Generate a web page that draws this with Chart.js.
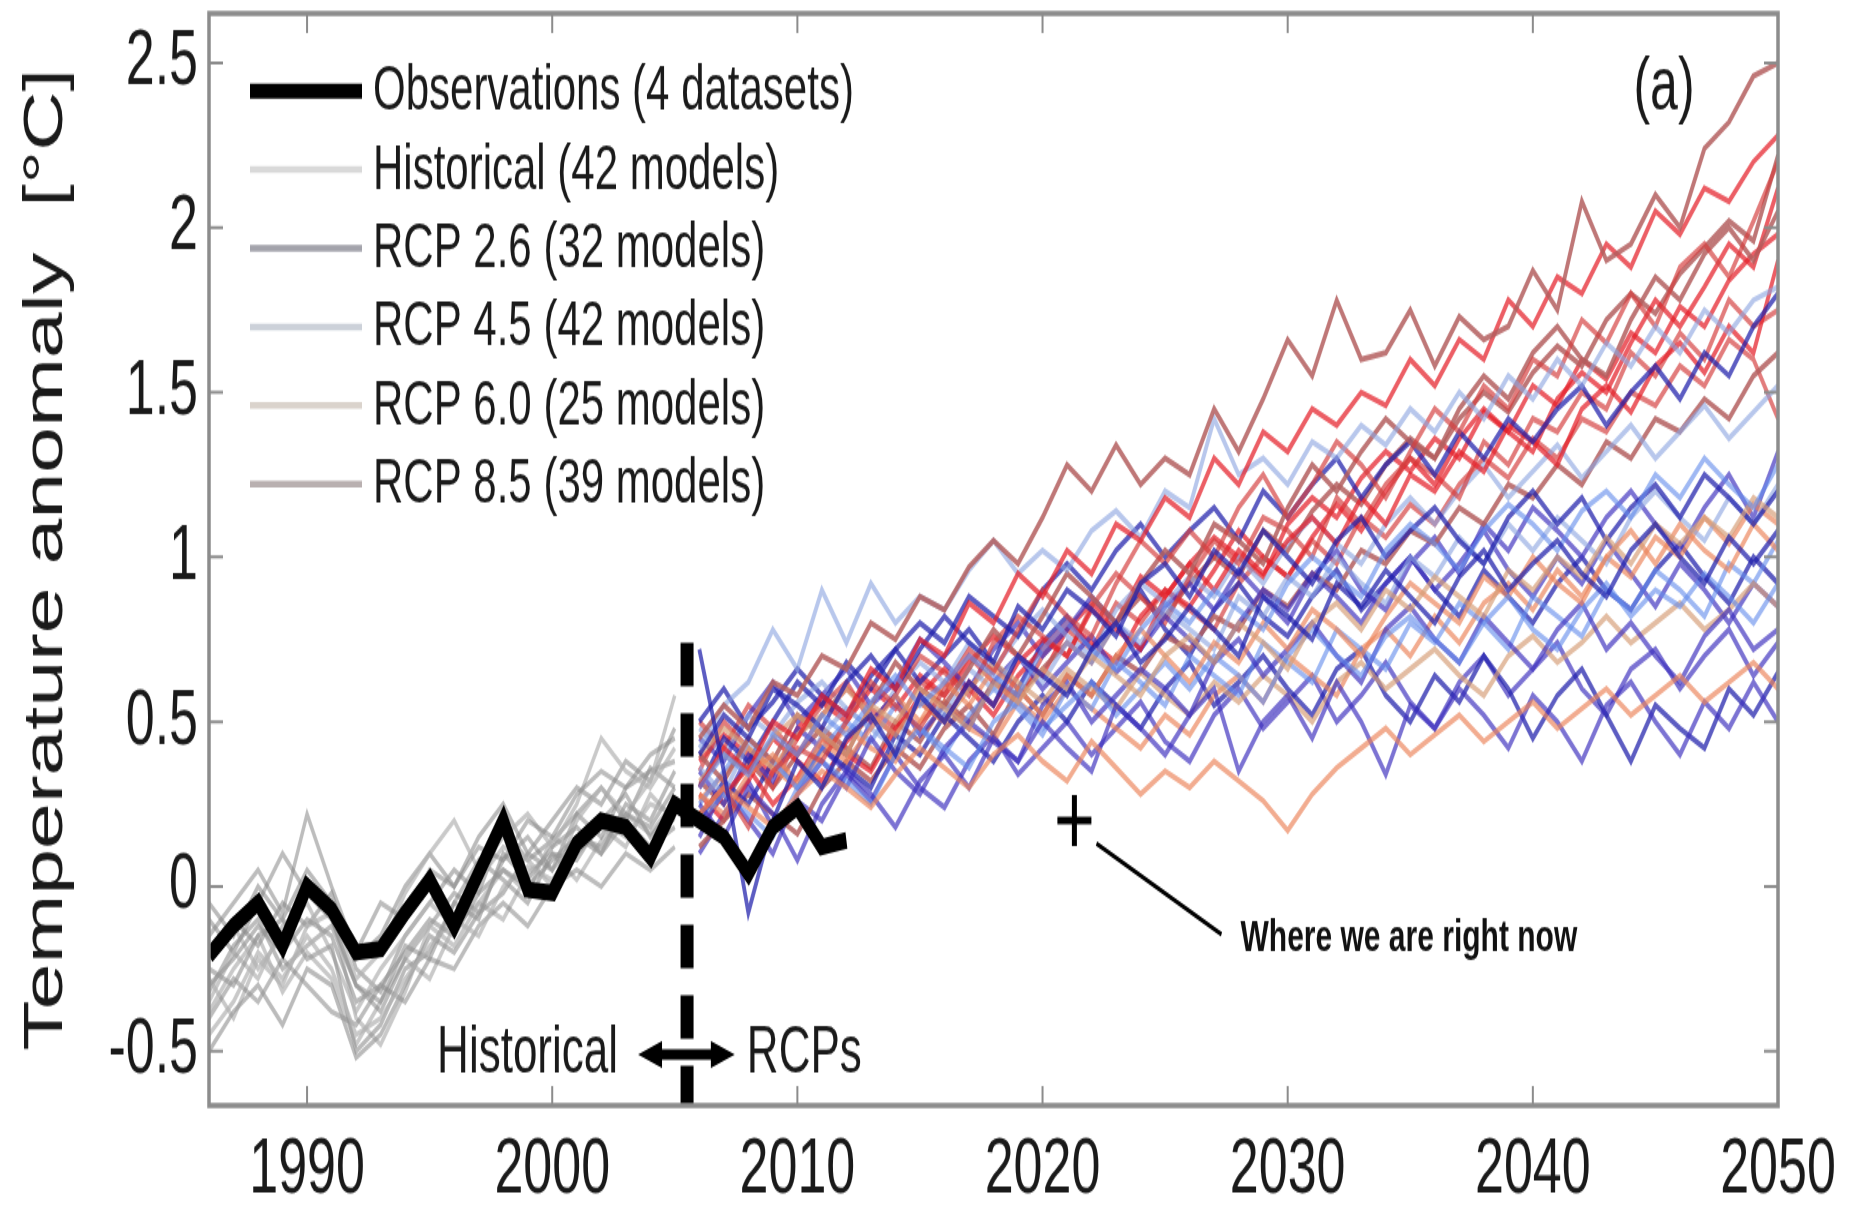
<!DOCTYPE html>
<html>
<head>
<meta charset="utf-8">
<title>Temperature anomaly - CMIP5 runs vs observations</title>
<script src="https://cdn.jsdelivr.net/npm/chart.js@4.4.1/dist/chart.umd.min.js"></script>
<style>
  html, body { margin: 0; padding: 0; background: #fff; }
  canvas { display: block; }
</style>
</head>
<body>
<!-- the original figure is a vertically stretched export, so the canvas is drawn short and stretched by CSS -->
<canvas id="chart" width="1854" height="804" style="width:1854px;height:1206px"></canvas>
<script>
// ---- data ----
const OBS_START = 1986;
const HIST_START = 1986;
const RCP_START = 2006;

const X_MIN = 1986, X_MAX = 2050;
const Y_MIN = -0.665, Y_MAX = 2.65;

// observations, 1986-2012
const obsValues = [-0.21, -0.12, -0.05, -0.18, 0.00, -0.07, -0.20, -0.19, -0.08, 0.02,
  -0.12, 0.04, 0.20, -0.01, -0.02, 0.13, 0.20, 0.18, 0.09, 0.25,
  0.20, 0.15, 0.04, 0.18, 0.24, 0.12, 0.14];

// historical runs, 1986-2005
const histRuns = [
  [-0.30, -0.22, -0.12, -0.20, -0.10, -0.15, -0.35, -0.30, -0.20, -0.10, -0.15, -0.02, 0.05, 0.00, 0.08, 0.15, 0.12, 0.22, 0.18, 0.30],
  [-0.45, -0.35, -0.20, -0.28, -0.15, -0.25, -0.45, -0.40, -0.28, -0.18, -0.10, -0.15, 0.00, 0.06, 0.02, 0.12, 0.20, 0.15, 0.25, 0.22],
  [-0.15, -0.05, 0.05, -0.08, 0.22, 0.00, -0.20, -0.05, -0.10, 0.05, 0.00, 0.12, 0.08, 0.20, 0.15, 0.28, 0.35, 0.30, 0.40, 0.45],
  [-0.25, -0.30, -0.15, -0.10, -0.22, -0.18, -0.50, -0.42, -0.25, -0.20, -0.05, -0.10, 0.10, 0.02, 0.12, 0.18, 0.10, 0.25, 0.20, 0.35],
  [-0.35, -0.20, -0.28, -0.12, -0.05, -0.20, -0.38, -0.25, -0.15, -0.05, -0.12, 0.02, 0.12, 0.08, 0.00, 0.20, 0.30, 0.22, 0.32, 0.58],
  [-0.10, -0.20, -0.05, 0.10, -0.02, -0.10, -0.30, -0.35, -0.18, -0.22, -0.05, 0.08, 0.02, -0.05, 0.10, 0.08, 0.20, 0.28, 0.15, 0.25],
  [-0.50, -0.38, -0.30, -0.42, -0.25, -0.30, -0.52, -0.45, -0.30, -0.15, -0.20, -0.08, -0.02, 0.10, 0.05, 0.15, 0.10, 0.20, 0.12, 0.18],
  [-0.20, -0.12, -0.25, -0.15, 0.02, -0.08, -0.28, -0.20, -0.02, 0.10, 0.20, 0.05, 0.15, 0.22, 0.12, 0.25, 0.45, 0.35, 0.30, 0.42],
  [-0.40, -0.28, -0.35, -0.22, -0.30, -0.38, -0.42, -0.30, -0.35, -0.22, -0.25, -0.12, -0.05, -0.12, 0.00, 0.05, 0.00, 0.10, 0.05, 0.12],
  [-0.05, -0.15, 0.00, -0.10, 0.05, -0.05, -0.22, -0.15, 0.00, 0.10, 0.00, 0.15, 0.25, 0.10, 0.20, 0.30, 0.25, 0.38, 0.32, 0.48],
  [-0.28, -0.40, -0.22, -0.30, -0.12, -0.08, -0.40, -0.48, -0.32, -0.12, -0.18, -0.05, 0.05, -0.02, 0.15, 0.10, 0.18, 0.12, 0.28, 0.20],
  [-0.32, -0.18, -0.10, -0.25, -0.18, -0.12, -0.30, -0.38, -0.22, -0.12, -0.02, -0.08, 0.08, 0.15, 0.05, 0.22, 0.15, 0.30, 0.35, 0.38],
  [-0.22, -0.10, -0.18, -0.05, -0.12, -0.02, -0.25, -0.32, -0.15, -0.05, 0.05, -0.02, 0.18, 0.08, 0.14, 0.22, 0.30, 0.20, 0.36, 0.30],
  [-0.38, -0.25, -0.15, -0.32, -0.20, -0.28, -0.48, -0.35, -0.22, -0.28, -0.12, -0.05, -0.10, 0.04, 0.10, 0.02, 0.14, 0.22, 0.16, 0.26]
];

// scenario runs, 2006-2050
const rcp85Runs = [
  [0.45, 0.55, 0.48, 0.62, 0.58, 0.70, 0.66, 0.80, 0.75, 0.88, 0.84, 0.97, 1.05, 0.98, 1.12, 1.28, 1.20, 1.34, 1.22, 1.30, 1.25, 1.45, 1.32, 1.48, 1.66, 1.55, 1.78, 1.60, 1.62, 1.75, 1.58, 1.73, 1.66, 1.70, 1.87, 1.75, 2.08, 1.90, 1.95, 2.10, 2.00, 2.24, 2.32, 2.46, 2.50],
  [0.30, 0.42, 0.35, 0.50, 0.45, 0.58, 0.52, 0.66, 0.60, 0.75, 0.70, 0.86, 0.80, 0.95, 0.88, 1.02, 0.95, 1.10, 1.05, 1.18, 1.12, 1.30, 1.22, 1.38, 1.32, 1.45, 1.40, 1.50, 1.46, 1.60, 1.52, 1.66, 1.60, 1.78, 1.70, 1.85, 1.80, 1.95, 1.88, 2.05, 1.98, 2.12, 2.08, 2.20, 2.28],
  [0.22, 0.30, 0.18, 0.35, 0.42, 0.38, 0.50, 0.62, 0.55, 0.48, 0.60, 0.72, 0.65, 0.78, 0.90, 0.82, 0.76, 0.92, 1.05, 0.98, 1.08, 1.00, 1.15, 1.25, 1.12, 1.22, 1.35, 1.28, 1.18, 1.32, 1.45, 1.38, 1.52, 1.45, 1.60, 1.55, 1.72, 1.65, 1.80, 1.70, 1.88, 1.95, 1.85, 2.02, 2.20],
  [0.40, 0.32, 0.45, 0.38, 0.52, 0.46, 0.40, 0.55, 0.68, 0.60, 0.55, 0.66, 0.78, 0.70, 0.82, 0.95, 0.88, 0.80, 0.92, 1.02, 0.95, 1.10, 1.05, 0.98, 1.15, 1.28, 1.20, 1.32, 1.42, 1.35, 1.30, 1.45, 1.55, 1.48, 1.62, 1.70, 1.60, 1.55, 1.72, 1.85, 1.78, 1.92, 2.00, 1.90, 2.05],
  [0.18, 0.28, 0.36, 0.25, 0.33, 0.45, 0.40, 0.35, 0.48, 0.56, 0.50, 0.62, 0.55, 0.68, 0.75, 0.70, 0.84, 0.78, 0.72, 0.88, 0.98, 0.90, 1.02, 0.95, 1.05, 1.12, 1.04, 1.18, 1.10, 1.25, 1.20, 1.32, 1.26, 1.40, 1.35, 1.28, 1.45, 1.52, 1.44, 1.58, 1.65, 1.56, 1.70, 1.62, 1.90],
  [0.35, 0.50, 0.42, 0.30, 0.45, 0.55, 0.62, 0.50, 0.58, 0.70, 0.65, 0.58, 0.74, 0.82, 0.76, 0.70, 0.85, 0.95, 0.88, 0.80, 0.94, 1.05, 0.98, 1.12, 1.08, 1.00, 1.18, 1.10, 1.22, 1.30, 1.25, 1.18, 1.35, 1.28, 1.42, 1.38, 1.50, 1.45, 1.62, 1.55, 1.68, 1.60, 1.78, 1.70, 1.75],
  [0.12, 0.20, 0.28, 0.22, 0.16, 0.30, 0.38, 0.32, 0.42, 0.36, 0.48, 0.55, 0.46, 0.60, 0.52, 0.64, 0.58, 0.70, 0.65, 0.76, 0.72, 0.82, 0.78, 0.90, 0.85, 0.95, 0.90, 1.02, 0.98, 1.08, 1.04, 1.15, 1.10, 1.22, 1.18, 1.28, 1.22, 1.35, 1.30, 1.42, 1.38, 1.48, 1.42, 1.55, 1.62],
  [0.28, 0.20, 0.32, 0.45, 0.38, 0.32, 0.44, 0.52, 0.46, 0.58, 0.66, 0.60, 0.52, 0.64, 0.72, 0.80, 0.74, 0.68, 0.82, 0.90, 0.85, 0.96, 1.08, 1.00, 0.94, 1.06, 1.16, 1.08, 1.20, 1.30, 1.22, 1.36, 1.45, 1.38, 1.32, 1.48, 1.56, 1.50, 1.65, 1.78, 1.70, 1.82, 1.95, 1.88, 2.12],
  [0.50, 0.42, 0.55, 0.48, 0.40, 0.52, 0.60, 0.54, 0.48, 0.62, 0.58, 0.70, 0.62, 0.56, 0.70, 0.78, 0.72, 0.86, 0.80, 0.90, 0.84, 0.78, 0.92, 1.00, 0.94, 1.05, 0.98, 1.12, 1.06, 1.16, 1.10, 1.22, 1.30, 1.24, 1.36, 1.30, 1.42, 1.38, 1.50, 1.46, 1.58, 1.52, 1.66, 1.60, 1.42],
  [0.32, 0.25, 0.38, 0.30, 0.40, 0.48, 0.42, 0.36, 0.50, 0.44, 0.56, 0.50, 0.62, 0.58, 0.66, 0.74, 0.68, 0.80, 0.88, 0.82, 0.92, 1.00, 0.94, 1.08, 1.02, 1.14, 1.22, 1.16, 1.28, 1.36, 1.30, 1.42, 1.50, 1.44, 1.56, 1.64, 1.58, 1.72, 1.80, 1.74, 1.86, 1.94, 2.02, 1.96, 2.22],
  [0.38, 0.46, 0.40, 0.34, 0.48, 0.56, 0.50, 0.60, 0.54, 0.64, 0.58, 0.68, 0.76, 0.70, 0.64, 0.78, 0.86, 0.80, 0.94, 0.88, 0.98, 1.06, 1.00, 0.94, 1.10, 1.18, 1.12, 1.24, 1.32, 1.26, 1.36, 1.30, 1.44, 1.38, 1.52, 1.46, 1.60, 1.54, 1.68, 1.62, 1.76, 1.70, 1.84, 1.92, 1.98]
];

const rcp26Runs = [
  [0.72, 0.35, -0.08, 0.20, 0.38, 0.30, 0.45, 0.52, 0.40, 0.58, 0.50, 0.62, 0.55, 0.70, 0.64, 0.58, 0.72, 0.80, 0.68, 0.75, 0.85, 0.78, 0.70, 0.88, 0.82, 0.75, 0.92, 0.85, 0.96, 0.88, 0.80, 0.94, 1.02, 0.90, 0.98, 1.05, 0.95, 0.88, 1.02, 1.10, 1.00, 0.92, 1.06, 0.98, 1.08],
  [0.25, 0.15, 0.30, 0.22, 0.08, 0.25, 0.35, 0.28, 0.18, 0.32, 0.40, 0.30, 0.45, 0.38, 0.50, 0.42, 0.35, 0.55, 0.48, 0.40, 0.52, 0.60, 0.35, 0.50, 0.58, 0.45, 0.62, 0.50, 0.34, 0.55, 0.48, 0.60, 0.52, 0.42, 0.58, 0.50, 0.38, 0.55, 0.62, 0.50, 0.40, 0.56, 0.48, 0.62, 0.50],
  [0.40, 0.52, 0.45, 0.60, 0.55, 0.48, 0.62, 0.70, 0.60, 0.72, 0.82, 0.74, 0.68, 0.85, 0.78, 0.90, 0.84, 0.76, 0.92, 0.98, 0.88, 1.02, 0.95, 1.08, 1.00, 0.92, 1.05, 1.12, 1.00, 1.08, 1.15, 1.05, 0.98, 1.12, 1.20, 1.10, 1.18, 1.05, 1.15, 1.22, 1.12, 1.25, 1.18, 1.10, 1.20],
  [0.15, 0.30, 0.20, 0.10, 0.28, 0.38, 0.30, 0.45, 0.35, 0.28, 0.42, 0.50, 0.44, 0.38, 0.55, 0.62, 0.50, 0.58, 0.66, 0.60, 0.52, 0.68, 0.75, 0.64, 0.72, 0.80, 0.70, 0.62, 0.78, 0.85, 0.75, 0.68, 0.82, 0.74, 0.66, 0.78, 0.86, 0.72, 0.80, 0.70, 0.62, 0.76, 0.84, 0.72, 0.78],
  [0.30, 0.45, 0.38, 0.50, 0.62, 0.55, 0.68, 0.60, 0.72, 0.80, 0.74, 0.88, 0.82, 0.76, 0.90, 0.98, 0.90, 1.02, 1.10, 1.00, 1.08, 1.15, 1.05, 1.20, 1.12, 1.22, 1.30, 1.18, 1.28, 1.35, 1.25, 1.38, 1.30, 1.42, 1.35, 1.45, 1.52, 1.40, 1.50, 1.58, 1.48, 1.62, 1.55, 1.70, 1.80],
  [0.35, 0.25, 0.40, 0.32, 0.48, 0.42, 0.35, 0.50, 0.58, 0.46, 0.55, 0.48, 0.62, 0.70, 0.60, 0.68, 0.76, 0.65, 0.72, 0.82, 0.75, 0.68, 0.80, 0.90, 0.84, 0.95, 0.88, 0.80, 0.92, 1.00, 0.90, 0.98, 1.08, 0.96, 0.88, 1.00, 0.92, 1.05, 0.95, 0.85, 0.98, 0.90, 0.80, 0.92, 0.85],
  [0.20, 0.32, 0.25, 0.38, 0.30, 0.42, 0.36, 0.30, 0.46, 0.40, 0.52, 0.45, 0.38, 0.50, 0.58, 0.50, 0.62, 0.55, 0.48, 0.60, 0.68, 0.55, 0.62, 0.70, 0.60, 0.52, 0.66, 0.72, 0.58, 0.50, 0.64, 0.56, 0.70, 0.60, 0.45, 0.58, 0.66, 0.52, 0.38, 0.55, 0.48, 0.42, 0.60, 0.52, 0.65],
  [0.45, 0.38, 0.52, 0.62, 0.50, 0.58, 0.66, 0.55, 0.62, 0.75, 0.68, 0.60, 0.72, 0.80, 0.70, 0.78, 0.88, 0.80, 0.72, 0.85, 0.92, 0.84, 0.96, 0.88, 0.80, 0.94, 1.02, 0.90, 0.84, 0.98, 1.06, 0.95, 1.10, 1.02, 1.15, 1.08, 1.00, 1.12, 1.20, 1.10, 1.02, 1.15, 1.25, 1.12, 1.32],
  [0.50, 0.60, 0.48, 0.56, 0.66, 0.58, 0.52, 0.64, 0.72, 0.62, 0.70, 0.78, 0.68, 0.60, 0.74, 0.82, 0.72, 0.80, 0.90, 0.78, 0.70, 0.84, 0.92, 0.82, 0.76, 0.88, 0.96, 0.84, 0.92, 1.00, 0.90, 0.82, 0.96, 0.88, 0.80, 0.92, 1.00, 0.90, 0.84, 0.96, 1.04, 0.94, 0.86, 1.00, 0.92],
  [0.10, 0.22, 0.32, 0.18, 0.26, 0.20, 0.34, 0.26, 0.40, 0.30, 0.24, 0.38, 0.46, 0.34, 0.42, 0.50, 0.40, 0.48, 0.56, 0.44, 0.38, 0.52, 0.60, 0.48, 0.56, 0.64, 0.50, 0.58, 0.68, 0.56, 0.48, 0.62, 0.70, 0.58, 0.66, 0.74, 0.60, 0.52, 0.66, 0.72, 0.60, 0.70, 0.78, 0.64, 0.74]
];

const rcp45Runs = [
  [0.30, 0.40, 0.34, 0.46, 0.40, 0.52, 0.46, 0.56, 0.64, 0.55, 0.62, 0.70, 0.64, 0.58, 0.72, 0.80, 0.72, 0.66, 0.78, 0.86, 0.80, 0.90, 0.84, 0.78, 0.92, 1.00, 0.94, 0.88, 1.02, 1.10, 1.04, 0.96, 1.08, 1.16, 1.10, 1.02, 1.14, 1.20, 1.12, 1.25, 1.18, 1.30, 1.22, 1.15, 1.28],
  [0.42, 0.55, 0.62, 0.78, 0.66, 0.90, 0.74, 0.92, 0.80, 0.88, 0.84, 0.96, 1.05, 0.95, 1.02, 0.96, 1.08, 1.14, 1.06, 1.20, 1.15, 1.42, 1.25, 1.30, 1.22, 1.35, 1.30, 1.40, 1.34, 1.45, 1.38, 1.50, 1.42, 1.55, 1.48, 1.60, 1.52, 1.65, 1.58, 1.70, 1.62, 1.75, 1.68, 1.78, 1.82],
  [0.20, 0.28, 0.22, 0.15, 0.30, 0.38, 0.32, 0.25, 0.40, 0.48, 0.42, 0.36, 0.50, 0.56, 0.48, 0.55, 0.62, 0.52, 0.60, 0.68, 0.60, 0.70, 0.64, 0.56, 0.70, 0.78, 0.70, 0.64, 0.76, 0.82, 0.75, 0.68, 0.80, 0.88, 0.78, 0.72, 0.84, 0.92, 0.82, 0.90, 0.85, 0.95, 0.88, 0.80, 0.92],
  [0.36, 0.28, 0.44, 0.38, 0.30, 0.46, 0.54, 0.48, 0.42, 0.58, 0.52, 0.66, 0.60, 0.70, 0.62, 0.74, 0.68, 0.80, 0.74, 0.84, 0.78, 0.72, 0.88, 0.82, 0.94, 0.88, 1.00, 0.92, 0.86, 1.00, 0.94, 1.06, 0.98, 1.10, 1.02, 1.12, 1.05, 0.98, 1.12, 1.20, 1.12, 1.05, 1.18, 1.10, 1.22],
  [0.25, 0.35, 0.45, 0.38, 0.30, 0.42, 0.50, 0.44, 0.55, 0.48, 0.40, 0.52, 0.60, 0.54, 0.46, 0.60, 0.54, 0.68, 0.62, 0.55, 0.70, 0.64, 0.58, 0.74, 0.68, 0.62, 0.78, 0.72, 0.66, 0.80, 0.74, 0.86, 0.80, 0.72, 0.88, 0.82, 0.76, 0.90, 0.84, 0.96, 0.90, 0.82, 0.98, 0.92, 1.05],
  [0.48, 0.40, 0.52, 0.46, 0.56, 0.62, 0.54, 0.48, 0.60, 0.68, 0.62, 0.74, 0.66, 0.76, 0.84, 0.76, 0.70, 0.84, 0.92, 0.86, 0.94, 0.88, 1.00, 0.92, 1.04, 1.12, 1.04, 0.98, 1.10, 1.18, 1.10, 1.20, 1.28, 1.18, 1.26, 1.34, 1.24, 1.32, 1.40, 1.30, 1.38, 1.46, 1.36, 1.44, 1.52]
];

const rcp60Runs = [
  [0.22, 0.30, 0.24, 0.18, 0.28, 0.35, 0.30, 0.24, 0.34, 0.42, 0.36, 0.30, 0.40, 0.46, 0.38, 0.32, 0.44, 0.36, 0.28, 0.35, 0.30, 0.38, 0.32, 0.26, 0.17, 0.28, 0.36, 0.42, 0.48, 0.40, 0.46, 0.52, 0.44, 0.50, 0.56, 0.48, 0.54, 0.60, 0.52, 0.58, 0.64, 0.56, 0.62, 0.68, 0.60],
  [0.32, 0.40, 0.35, 0.45, 0.52, 0.46, 0.40, 0.55, 0.50, 0.60, 0.54, 0.48, 0.62, 0.56, 0.66, 0.60, 0.70, 0.64, 0.58, 0.70, 0.76, 0.68, 0.80, 0.74, 0.66, 0.80, 0.86, 0.78, 0.90, 0.84, 0.94, 0.88, 0.82, 0.96, 0.90, 1.00, 0.94, 1.06, 0.98, 1.10, 1.04, 1.12, 1.06, 1.18, 1.12],
  [0.28, 0.22, 0.34, 0.40, 0.32, 0.44, 0.38, 0.48, 0.58, 0.50, 0.62, 0.55, 0.66, 0.60, 0.52, 0.64, 0.58, 0.70, 0.78, 0.70, 0.62, 0.74, 0.68, 0.80, 0.72, 0.84, 0.78, 0.70, 0.82, 0.92, 0.86, 0.80, 0.94, 0.88, 1.00, 0.92, 0.86, 1.00, 1.08, 0.98, 1.10, 1.02, 0.96, 1.10, 1.02],
  [0.40, 0.48, 0.42, 0.36, 0.46, 0.52, 0.60, 0.52, 0.46, 0.56, 0.50, 0.60, 0.68, 0.62, 0.56, 0.66, 0.60, 0.54, 0.65, 0.58, 0.52, 0.62, 0.56, 0.64, 0.58, 0.50, 0.62, 0.68, 0.60, 0.66, 0.72, 0.64, 0.58, 0.70, 0.76, 0.68, 0.74, 0.82, 0.74, 0.80, 0.86, 0.78, 0.84, 0.92, 0.85],
  [0.26, 0.34, 0.42, 0.36, 0.30, 0.40, 0.48, 0.42, 0.38, 0.50, 0.56, 0.48, 0.44, 0.56, 0.50, 0.60, 0.54, 0.48, 0.42, 0.52, 0.46, 0.58, 0.64, 0.56, 0.70, 0.64, 0.58, 0.72, 0.78, 0.70, 0.82, 0.74, 0.86, 0.92, 0.84, 0.96, 0.88, 1.00, 0.94, 1.06, 1.00, 1.12, 1.04, 1.16, 1.10]
];

// legend entries
const legendLabels = ['Observations (4 datasets)', 'Historical (42 models)', 'RCP 2.6 (32 models)',
  'RCP 4.5 (42 models)', 'RCP 6.0 (25 models)', 'RCP 8.5 (39 models)'];
const legendColors = ['#000000', '#d9d9d9', '#a3a3ab', '#ccd1d9', '#dad3cc', '#b9b0b0'];

// annotations
const DIVIDER_YEAR = 2005.5, DIVIDER_TOP = 0.74;
const ARROW_FROM = 2003.5, ARROW_TO = 2007.45, ARROW_Y = -0.51;
const NOW_POINT = { x: 2021.3, y: 0.2 };
const NOW_LEADER = [{ x: 2022.2, y: 0.13 }, { x: 2027.3, y: -0.145 }];
const NOW_LABEL_Y = -0.16;

// ---- styling ----
const FONT = '"Liberation Sans", Arial, Helvetica, sans-serif';
Chart.defaults.font.family = FONT;
Chart.defaults.color = '#1a1a1a';

const histColors = ['rgba(150,150,150,0.65)', 'rgba(178,178,178,0.7)', 'rgba(135,135,135,0.55)'];
const rcpColors = {
  rcp85: ['rgba(180,95,95,0.85)', 'rgba(228,32,42,0.72)', 'rgba(212,62,62,0.68)'],
  rcp26: ['rgba(30,30,170,0.72)', 'rgba(62,48,190,0.68)'],
  rcp45: ['rgba(100,140,235,0.62)', 'rgba(140,165,225,0.62)'],
  rcp60: ['rgba(236,132,92,0.68)', 'rgba(214,158,120,0.68)']
};

function series(start, vals) {
  return vals.map((v, i) => ({ x: start + i, y: v }));
}

const datasets = [];

// observations on top
datasets.push({
  label: 'Observations', data: series(OBS_START, obsValues),
  borderColor: '#000', borderWidth: 11, pointRadius: 0, order: 1
});
// divider, marker, leader line
datasets.push({
  label: 'divider', data: [{ x: DIVIDER_YEAR, y: DIVIDER_TOP }, { x: DIVIDER_YEAR, y: Y_MIN }],
  borderColor: '#000', borderWidth: 13, borderDash: [29, 18], pointRadius: 0, order: 1
});
datasets.push({
  label: 'now', data: [NOW_POINT], showLine: false,
  pointStyle: 'cross', pointRadius: 17, pointBorderWidth: 5, pointBorderColor: '#000', order: 1
});
datasets.push({
  label: 'leader', data: NOW_LEADER,
  borderColor: '#000', borderWidth: 3, pointRadius: 0, order: 1
});

// scenario runs, interleaved so colours mix
const groups = [['rcp26', rcp26Runs], ['rcp85', rcp85Runs], ['rcp45', rcp45Runs], ['rcp60', rcp60Runs]];
const maxRuns = Math.max(...groups.map(g => g[1].length));
for (let i = 0; i < maxRuns; i++) {
  groups.forEach(([key, runs]) => {
    if (!runs[i]) return;
    const pal = rcpColors[key];
    datasets.push({
      label: key, data: series(RCP_START, runs[i]),
      borderColor: pal[i % pal.length], borderWidth: 3.8, pointRadius: 0, order: 2
    });
  });
}

// historical runs underneath
histRuns.forEach((run, i) => {
  datasets.push({
    label: 'historical', data: series(HIST_START, run),
    borderColor: histColors[i % histColors.length], borderWidth: 3.4, pointRadius: 0, order: 3
  });
});

// ---- frame, legend, labels ----
const decorations = {
  id: 'decorations',
  afterDatasetsDraw(chart) {
    const { ctx, chartArea: a, scales: { x, y } } = chart;
    ctx.save();

    // box + inward ticks
    ctx.strokeStyle = '#8c8c8c';
    ctx.lineWidth = 3.5;
    ctx.strokeRect(a.left, a.top, a.right - a.left, a.bottom - a.top);
    ctx.lineWidth = 2;
    ctx.beginPath();
    x.ticks.forEach(t => {
      const px = x.getPixelForValue(t.value);
      if (px >= a.right - 2) return;
      ctx.moveTo(px, a.bottom); ctx.lineTo(px, a.bottom - 13);
      ctx.moveTo(px, a.top); ctx.lineTo(px, a.top + 13);
    });
    y.ticks.forEach(t => {
      const py = y.getPixelForValue(t.value);
      ctx.moveTo(a.left, py); ctx.lineTo(a.left + 14, py);
      ctx.moveTo(a.right, py); ctx.lineTo(a.right - 14, py);
    });
    ctx.stroke();

    // double arrow Historical <-> RCPs
    const ay = y.getPixelForValue(ARROW_Y);
    const ax0 = x.getPixelForValue(ARROW_FROM), ax1 = x.getPixelForValue(ARROW_TO);
    ctx.fillStyle = '#000';
    ctx.strokeStyle = '#000';
    ctx.lineWidth = 7;
    ctx.beginPath();
    ctx.moveTo(ax0 + 18, ay); ctx.lineTo(ax1 - 18, ay);
    ctx.stroke();
    ctx.beginPath();
    ctx.moveTo(ax0, ay); ctx.lineTo(ax0 + 24, ay - 9); ctx.lineTo(ax0 + 24, ay + 9); ctx.closePath();
    ctx.moveTo(ax1, ay); ctx.lineTo(ax1 - 24, ay - 9); ctx.lineTo(ax1 - 24, ay + 9); ctx.closePath();
    ctx.fill();

    ctx.fillStyle = '#1a1a1a';
    ctx.font = '44px ' + FONT;
    ctx.textBaseline = 'middle';
    ctx.textAlign = 'right';
    ctx.fillText('Historical', ax0 - 20, ay);
    ctx.textAlign = 'left';
    ctx.fillText('RCPs', ax1 + 12, ay);

    // "where we are" label
    ctx.font = 'bold 30px ' + FONT;
    ctx.fillStyle = '#111';
    ctx.fillText('Where we are right now', x.getPixelForValue(NOW_LEADER[1].x) + 19, y.getPixelForValue(NOW_LABEL_Y));

    // panel tag
    ctx.font = '50px ' + FONT;
    ctx.textAlign = 'center';
    ctx.fillStyle = '#1a1a1a';
    ctx.fillText('(a)', 1664, 59);

    // legend
    const rowTop = 60.7, rowStep = 52.4, lineX0 = 250, lineX1 = 362, textX = 373;
    ctx.font = '42px ' + FONT;
    ctx.textAlign = 'left';
    legendLabels.forEach((lab, i) => {
      const ry = rowTop + i * rowStep;
      ctx.strokeStyle = legendColors[i];
      ctx.lineWidth = i === 0 ? 10 : 4.5;
      ctx.beginPath();
      ctx.moveTo(lineX0, ry); ctx.lineTo(lineX1, ry);
      ctx.stroke();
      ctx.fillStyle = '#1a1a1a';
      ctx.fillText(lab, textX, ry + 1);
    });

    ctx.restore();
  }
};

new Chart(document.getElementById('chart'), {
  type: 'line',
  data: { datasets },
  options: {
    responsive: false,
    devicePixelRatio: 1,
    animation: false,
    events: [],
    layout: { autoPadding: false, padding: { top: 9, right: 76, bottom: 0, left: 0 } },
    plugins: { legend: { display: false }, tooltip: { enabled: false } },
    elements: { line: { tension: 0, borderJoinStyle: 'miter' } },
    scales: {
      x: {
        type: 'linear', min: X_MIN, max: X_MAX,
        grid: { display: false, drawTicks: false },
        border: { display: false },
        ticks: {
          stepSize: 10, includeBounds: false, padding: 12,
          font: { size: 52 }, color: '#1a1a1a', maxRotation: 0,
          callback: v => String(v)
        },
        afterFit: s => { s.height = 67; s.paddingLeft = 0; s.paddingRight = 0; }
      },
      y: {
        min: Y_MIN, max: Y_MAX,
        grid: { display: false, drawTicks: false },
        border: { display: false },
        ticks: {
          stepSize: 0.5, includeBounds: false, padding: 11,
          font: { size: 52 }, color: '#1a1a1a',
          callback: v => String(Math.round(v * 10) / 10)
        },
        title: {
          display: true, text: 'Temperature anomaly  [°C]',
          font: { size: 55 }, color: '#1a1a1a', padding: { top: 14, bottom: 0 }
        },
        afterFit: s => { s.width = 209; s.paddingTop = 0; s.paddingBottom = 0; }
      }
    }
  },
  plugins: [decorations]
});
</script>
</body>
</html>
